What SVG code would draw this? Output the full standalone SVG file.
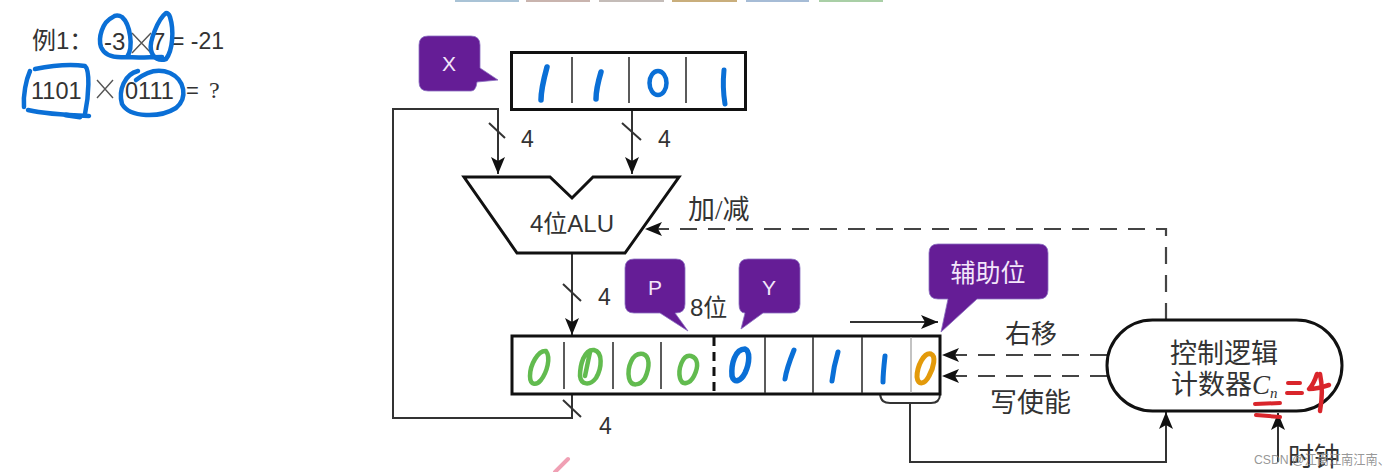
<svg xmlns="http://www.w3.org/2000/svg" width="1400" height="472" viewBox="0 0 1400 472">
<style>
.box{fill:#fff;stroke:#111;stroke-width:3}
.div{stroke:#333;stroke-width:1.6;fill:none}
.wire{stroke:#333;stroke-width:2;fill:none}
.dash{stroke:#444;stroke-width:2.2;fill:none;stroke-dasharray:17 11}
.tag{fill:#651d96;stroke:#8a6fc0;stroke-width:.8}
.tagt{fill:#f3e6fa;font-family:"Liberation Sans","Noto Sans CJK SC",sans-serif;text-anchor:middle}
.lab{fill:#333;font-family:"Liberation Sans","Noto Sans CJK SC",sans-serif}
.ser{fill:#333;font-family:"Liberation Serif","Noto Sans CJK SC",serif}
.pen{fill:none;stroke-linecap:round;stroke-linejoin:round}
.blue{stroke:#0a6fd6}
.green{stroke:#62bb4f;stroke-width:4.500}
.orange{stroke:#e39a0a;stroke-width:5}
.red{stroke:#d9252b}
</style>
<defs>
<marker id="arr" markerUnits="userSpaceOnUse" markerWidth="18" markerHeight="20" refX="17" refY="7" orient="auto">
<path d="M0 0L17 7L0 14L4 7Z" fill="#111"/>
</marker>
</defs>

<g id="tabs">
<rect x="455" y="-2" width="64" height="4" fill="#a9c3d6"/>
<rect x="526" y="-2" width="64" height="4" fill="#c9b4ae"/>
<rect x="599" y="-2" width="65" height="4" fill="#c4bcb8"/>
<rect x="672" y="-2" width="65" height="4" fill="#c9ae7c"/>
<rect x="746" y="-2" width="63" height="4" fill="#a6bcd6"/>
<rect x="819" y="-2" width="64" height="4" fill="#a9cfa6"/>
</g>

<g id="example">
<text class="lab" x="32" y="49" font-size="24">例1：</text>
<text class="lab" x="104" y="50" font-size="24">-3</text>
<path d="M132 33L151 53M151 33L132 53" stroke="#555" stroke-width="1.400"/>
<text class="lab" x="152" y="50" font-size="24">7</text>
<text class="lab" x="171" y="49" font-size="23">= -21</text>
<text class="lab" x="31" y="99" font-size="23.500">1101</text>
<path d="M97 80L113 98M113 80L97 98" stroke="#555" stroke-width="1.400"/>
<text class="lab" x="125" y="99" font-size="23.500">0111</text>
<text class="lab" x="186" y="98" font-size="22">=</text>
<text class="ser" x="209" y="98" font-size="24">?</text>
<path class="pen blue" stroke-width="4.500" d="M113 17C102 22 98 38 101 47C105 57 117 58 127 57C134 47 130 24 122 17C119 15 115 15 113 17ZM127 57C138 58 150 57 162 57"/>
<path class="pen blue" stroke-width="4.500" d="M166 13C158 19 149 42 151 50C153 59 160 61 166 59C173 50 174 30 170 17C169 14 167 13 166 13Z"/>
<path class="pen blue" stroke-width="4.500" d="M30 71C26 80 23 95 24 107M35 69C50 66 70 64 85 66C90 70 89 95 85 114M28 110C45 114 65 115 89 116"/>
<path class="pen blue" stroke-width="5" d="M66 115L80 117"/>
<path class="pen blue" stroke-width="4.500" d="M138 71C125 74 118 90 122 104C130 118 160 118 176 108C188 98 185 80 170 73C158 68 146 72 136 80"/>
</g>

<g id="connectors">
<path class="wire" d="M572 393V418H393V109H498V174" marker-end="url(#arr)"/>
<path class="wire" d="M632 109V174" marker-end="url(#arr)"/>
<path class="wire" d="M572 253V335" marker-end="url(#arr)"/>
<path class="wire" d="M850 322H938" marker-end="url(#arr)"/>
<path class="wire" d="M910 403V462H1166V412" marker-end="url(#arr)"/>
<path class="wire" d="M1278 462V413" marker-end="url(#arr)"/>
<path class="wire" d="M880 394C881 401 884 403 890 403H931C937 403 940 400 940 394"/>
<path class="dash" d="M1166 320V229H645" marker-end="url(#arr)"/>
<path class="dash" d="M1107 355H942" marker-end="url(#arr)"/>
<path class="dash" d="M1107 376H942" marker-end="url(#arr)"/>
<path class="wire" d="M489 123L505 138M622 123L641 140M563 284L581 301M563 400L581 417"/>
<text class="lab" x="521" y="147" font-size="23">4</text>
<text class="lab" x="658" y="147" font-size="23">4</text>
<text class="lab" x="598" y="305" font-size="23">4</text>
<text class="lab" x="599" y="434" font-size="23">4</text>
<text class="ser" x="688" y="219" font-size="27">加/减</text>
<text class="ser" x="1005" y="343" font-size="26">右移</text>
<text class="ser" x="990" y="412" font-size="27">写使能</text>
<text class="lab" x="690" y="316" font-size="24">8位</text>
</g>

<g id="reg-x">
<rect class="box" x="511.500" y="52.500" width="234" height="57"/>
<path class="div" d="M572 57V103M629 57V103M686 57V103"/>
<path class="pen blue" stroke-width="5.500" d="M547 67C544 78 541 90 541 100M601 72C598 82 596 90 596 99"/>
<ellipse class="pen blue" stroke-width="4.500" cx="658" cy="83" rx="8.500" ry="12"/>
<path class="pen blue" stroke-width="5" d="M724 70C723 80 723 92 725 104"/>
</g>

<g id="alu">
<path d="M464 177H550L572 198L593 177H679L625 253H517Z" fill="#fff" stroke="#111" stroke-width="3"/>
<text class="lab" x="572" y="232" font-size="24" text-anchor="middle">4位ALU</text>
</g>

<g id="reg-pa">
<rect class="box" x="512" y="336" width="428" height="58"/>
<path class="div" d="M564 342V389M613 342V389M661 342V389M765 337V393M813 337V393M862 337V393"/>
<path d="M911 337V393" stroke="#aaa" stroke-width="1.400"/>
<path d="M714 337V394" stroke="#111" stroke-width="3" stroke-dasharray="9 6"/>
<path class="pen green" d="M546 351C538 350 530 365 530 376C530 385 536 386 541 380C547 372 551 358 546 351Z"/>
<path class="pen green" d="M594 350C584 349 580 365 580 376C581 385 590 386 596 378C602 368 603 352 594 350ZM590 352L585 376"/>
<path class="pen green" d="M643 354C632 352 627 368 629 378C631 387 640 386 645 378C650 367 650 356 643 354Z"/>
<path class="pen green" d="M691 356C682 354 678 370 680 378C682 386 690 384 694 376C699 366 698 358 691 356Z"/>
<path class="pen blue" stroke-width="5.500" d="M745 349C735 349 731 364 732 376C734 384 741 381 745 373C750 362 750 351 745 349Z"/>
<path class="pen blue" stroke-width="5" d="M794 350C790 360 786 372 785 379M838 352C835 362 833 372 832 381M885 356C884 365 883 374 883 382"/>
<path class="pen orange" d="M931 354C924 352 917 366 917 377C918 386 925 384 929 376C934 367 936 356 931 354Z"/>
</g>

<g id="control">
<rect class="box" x="1107" y="320" width="235" height="91" rx="45.500"/>
<text class="ser" x="1170" y="363" font-size="27">控制逻辑</text>
<text class="ser" x="1171" y="394" font-size="27">计数器<tspan font-style="italic">C</tspan><tspan font-style="italic" font-size="15" dy="4">n</tspan></text>
</g>

<g id="clock">
<text class="ser" x="1288" y="466" font-size="26">时钟</text>
</g>

<g id="notes">
<path class="tag" d="M428 36H471Q480 36 480 45V68L498 80L477 82Q476 91 471 91H428Q419 91 419 82V45Q419 36 428 36Z"/>
<text class="tagt" x="449" y="71" font-size="21">X</text>
<path class="tag" d="M634 259H676Q685 259 685 268V304Q685 313 676 313H675L688 331L660 313H634Q625 313 625 304V268Q625 259 634 259Z"/>
<text class="tagt" x="655" y="295" font-size="21">P</text>
<path class="tag" d="M748 259H791Q800 259 800 268V304Q800 313 791 313H763L741 329L745 313Q739 313 739 304V268Q739 259 748 259Z"/>
<text class="tagt" x="769" y="295" font-size="21">Y</text>
<path class="tag" d="M938 244H1039Q1048 244 1048 253V290Q1048 299 1039 299H977L941 332L948 299H938Q929 299 929 290V253Q929 244 938 244Z"/>
<text class="tagt" x="988" y="282" font-size="25">辅助位</text>
</g>

<g id="marks">
<path class="pen red" stroke-width="4" d="M1255 404L1280 403M1256 415L1280 417"/>
<path class="pen red" stroke-width="4" d="M1288 383H1300M1287 393H1302"/>
<path class="pen red" stroke-width="4.500" d="M1317 374C1315 380 1312 386 1309 389C1315 389 1323 387 1329 385M1320 374C1323 388 1322 400 1320 411"/>
<path class="pen" stroke="#f0a0b4" stroke-width="4" d="M568 459L555 472"/>
</g>

<text id="credit" x="1254" y="464" font-size="13" textLength="136" lengthAdjust="spacingAndGlyphs" fill="#8a8a8a" fill-opacity=".9" font-family="'Liberation Sans','Noto Sans CJK SC',sans-serif">CSDN @江南江南江南、</text>
</svg>
